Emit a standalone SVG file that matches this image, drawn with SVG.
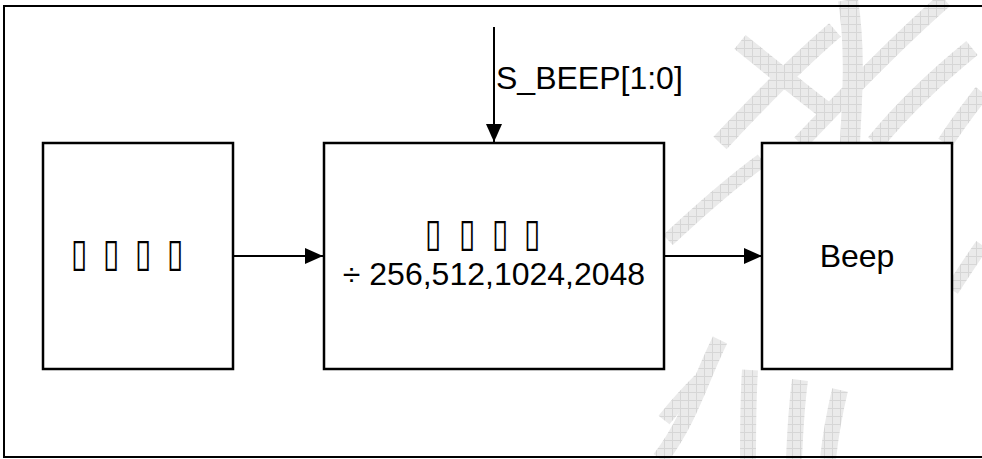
<svg xmlns="http://www.w3.org/2000/svg" width="982" height="459" viewBox="0 0 982 459">
<defs>
<pattern id="grid" width="8" height="8" patternUnits="userSpaceOnUse">
<rect width="8" height="8" fill="#eaeaea"/>
<path d="M0 0.5H8M0.5 0V8" stroke="#d6d6d6" stroke-width="1" fill="none"/>
</pattern>
<marker id="arrow" viewBox="0 0 18 16" refX="18" refY="8" markerWidth="18" markerHeight="16" markerUnits="userSpaceOnUse" orient="auto">
<path d="M0 0L18 8L0 16Z" fill="#000"/>
</marker>
</defs>
<style>
.box{fill:#fff;stroke:#000;stroke-width:2.5}
.lbl{font-family:"Liberation Sans",Arial,sans-serif;font-size:32px;fill:#000}
.tofu{font-family:"DejaVu Sans",sans-serif;font-size:30px;fill:#000}
.wm{fill:none;stroke:url(#grid);stroke-linecap:butt}
.conn{stroke:#000;stroke-width:2;fill:none}
</style>
<rect width="982" height="459" fill="#fff"/>
<g id="watermark">
<path class="wm" stroke-width="20" d="M848 0C856 50 852 100 850 143"/>
<path class="wm" stroke-width="18" d="M720 143C760 100 800 60 835 30"/>
<path class="wm" stroke-width="18" d="M740 42C775 70 805 95 832 115"/>
<path class="wm" stroke-width="16" d="M800 143C860 80 910 30 945 0"/>
<path class="wm" stroke-width="18" d="M875 143C910 100 945 70 972 48"/>
<path class="wm" stroke-width="16" d="M945 143C960 120 972 105 982 92"/>
<path class="wm" stroke-width="14" d="M668 240C700 210 735 180 762 160"/>
<path class="wm" stroke-width="14" d="M952 290C965 270 975 255 982 245"/>
<path class="wm" stroke-width="16" d="M720 340C700 380 690 420 660 459"/>
<path class="wm" stroke-width="16" d="M750 370C748 400 748 430 748 459"/>
<path class="wm" stroke-width="16" d="M800 380C796 410 795 435 794 459"/>
<path class="wm" stroke-width="16" d="M840 390C834 415 830 440 828 459"/>
<path class="wm" stroke-width="14" d="M664 420C680 400 690 390 700 380"/>
</g>
<rect x="4" y="6" width="990" height="451" fill="none" stroke="#000" stroke-width="2"/>
<g id="connectors">
<line class="conn" x1="494" y1="27" x2="494" y2="142" marker-end="url(#arrow)"/>
<line class="conn" x1="233" y1="256" x2="323" y2="256" marker-end="url(#arrow)"/>
<line class="conn" x1="664" y1="256" x2="762" y2="256" marker-end="url(#arrow)"/>
<text class="lbl" x="496" y="89">S_BEEP[1:0]</text>
</g>
<g id="node-clock">
<rect class="box" x="43" y="143" width="190" height="226"/>
<text class="tofu" transform="translate(0 266) scale(1 1.3)" x="79 111 143 175" y="0" text-anchor="middle">▯▯▯▯</text>
</g>
<g id="node-divider">
<rect class="box" x="324" y="143" width="340" height="226"/>
<text class="tofu" transform="translate(0 246) scale(1 1.3)" x="433 467 500 532" y="0" text-anchor="middle">▯▯▯▯</text>
<text class="lbl" x="494" y="285" text-anchor="middle">÷ 256,512,1024,2048</text>
</g>
<g id="node-beep">
<rect class="box" x="762" y="143" width="190" height="226"/>
<text class="lbl" x="857" y="267" text-anchor="middle">Beep</text>
</g>
</svg>
